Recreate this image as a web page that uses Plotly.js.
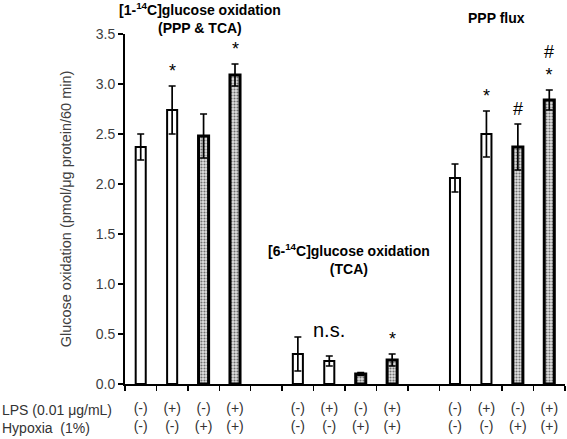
<!DOCTYPE html>
<html>
<head>
<meta charset="utf-8">
<script src="https://cdn.plot.ly/plotly-3.0.1.min.js"></script>
<style>html,body{margin:0;padding:0;background:#fff;}#chart{width:567px;height:439px;}</style>
</head>
<body>
<div id="chart"></div>
<script>
// ---- data ----
const groupTitles = ['[1-<sup>14</sup>C]glucose oxidation<br>(PPP & TCA)', '[6-<sup>14</sup>C]glucose oxidation<br>(TCA)', 'PPP flux'];
const lpsLabels = ['(-)', '(+)', '(-)', '(+)'];
const hypLabels = ['(-)', '(-)', '(+)', '(+)'];
const hypoxiaOn = [false, false, true, true];
const c1Values = [2.37, 2.74, 2.48, 3.09];
const c1Errors = [0.13, 0.24, 0.22, 0.11];
const c6Values = [0.30, 0.23, 0.10, 0.24];
const c6Errors = [0.17, 0.05, 0.015, 0.06];
const pppValues = [2.06, 2.50, 2.37, 2.84];
const pppErrors = [0.14, 0.23, 0.23, 0.10];
const c1Marks = ['', '*', '', '*'];
const c6Marks = ['', '', '', '*'];
const pppMarks = ['', '*', '#', '#<br>*'];
const rowLabels = ['LPS (0.01 \u03bcg/mL)', 'Hypoxia\u00a0\u00a0(1%)'];
const yTitle = 'Glucose oxidation (pmol/\u03bcg protein/60 min)';

const values = [c1Values, c6Values, pppValues];
const errors = [c1Errors, c6Errors, pppErrors];
const marks = [c1Marks, c6Marks, pppMarks];
const slot = 5;

const norm = {x: [], y: [], e: []}, hyp = {x: [], y: [], e: []};
const tickvals = [], ticktext = [];
const annotations = [];
values.forEach((vals, g) => {
  vals.forEach((v, i) => {
    const x = g * slot + i;
    const t = hypoxiaOn[i] ? hyp : norm;
    t.x.push(x); t.y.push(v); t.e.push(errors[g][i]);
    tickvals.push(x); ticktext.push(lpsLabels[i] + '<br>' + hypLabels[i]);
    if (marks[g][i]) {
      annotations.push({x: x, y: v + errors[g][i], xref: 'x', yref: 'y', text: marks[g][i],
        showarrow: false, yanchor: 'bottom', yshift: 3,
        font: {family: 'Liberation Sans, Arial, sans-serif', size: 18, color: '#000'}});
    }
  });
});
const minorTicks = [];
for (let k = -0.5; k <= values.length * slot - 1.5 + 0.01; k += 1) minorTicks.push(k);

const titleFont = {family: 'Liberation Sans, Arial, sans-serif', size: 14, color: '#000'};
annotations.push({x: 1.9, y: 1.045, xref: 'x', yref: 'paper', text: '<b>' + groupTitles[0] + '</b>', showarrow: false, yanchor: 'middle', font: titleFont});
annotations.push({x: 6.62, y: 1.05, xref: 'x', yref: 'y', text: '<b>' + groupTitles[1] + '</b>', showarrow: false, yanchor: 'bottom', font: titleFont});
annotations.push({x: 11.33, y: 1.047, xref: 'x', yref: 'paper', text: '<b>' + groupTitles[2] + '</b>', showarrow: false, yanchor: 'middle', font: titleFont});
annotations.push({x: 6, y: 0.41, xref: 'x', yref: 'y', text: 'n.s.', showarrow: false, yanchor: 'bottom',
  font: {family: 'Liberation Sans, Arial, sans-serif', size: 20, color: '#000'}});
annotations.push({x: -125 / 440, y: -0.045, xref: 'paper', yref: 'paper', xanchor: 'left', yanchor: 'top', align: 'left',
  text: rowLabels.join('<br>'), showarrow: false,
  font: {family: 'Liberation Sans, Arial, sans-serif', size: 14, color: '#333'}});

const errStyle = (arr) => ({type: 'data', array: arr, visible: true, color: '#000', thickness: 1.7, width: 3.5});
const traces = [
  {type: 'bar', x: norm.x, y: norm.y, width: 0.32, error_y: errStyle(norm.e),
   marker: {color: '#ffffff', line: {color: '#000', width: 2}}, hoverinfo: 'none'},
  {type: 'bar', x: hyp.x, y: hyp.y, width: 0.32, error_y: errStyle(hyp.e),
   marker: {color: '#d9d9d9', line: {color: '#000', width: 3},
     pattern: {shape: '.', bgcolor: '#e0e0e0', fgcolor: '#707070', size: 3, solidity: 0.4}}, hoverinfo: 'none'}
];

const layout = {
  width: 567, height: 439,
  margin: {l: 125, r: 2, t: 34, b: 55},
  paper_bgcolor: '#fff', plot_bgcolor: '#fff',
  showlegend: false, barmode: 'overlay',
  font: {family: 'Liberation Sans, Arial, sans-serif', size: 13, color: '#404040'},
  xaxis: {range: [-0.5, values.length * slot - 1.5], tickmode: 'array', tickvals: tickvals, ticktext: ticktext,
    ticks: '', showline: true, linecolor: '#000', linewidth: 2, showgrid: false, zeroline: false,
    tickfont: {size: 14, color: '#333'}, ticklabelstandoff: 10,
    minor: {tickmode: 'array', tickvals: minorTicks, ticks: 'outside', ticklen: 5, tickcolor: '#000', tickwidth: 1.5, showgrid: false}},
  yaxis: {range: [0, 3.5], tickmode: 'array', tickvals: [0, 0.5, 1, 1.5, 2, 2.5, 3, 3.5],
    ticktext: ['0.0', '0.5', '1.0', '1.5', '2.0', '2.5', '3.0', '3.5'],
    ticks: 'outside', ticklen: 5, tickwidth: 1.5, tickcolor: '#000', showline: true, linecolor: '#000', linewidth: 2,
    showgrid: false, zeroline: false, tickfont: {size: 14, color: '#404040'},
    title: {text: yTitle, font: {size: 14.5, color: '#404040'}, standoff: 21}},
  annotations: annotations
};
Plotly.newPlot('chart', traces, layout, {staticPlot: true, displayModeBar: false});
</script>
</body>
</html>
